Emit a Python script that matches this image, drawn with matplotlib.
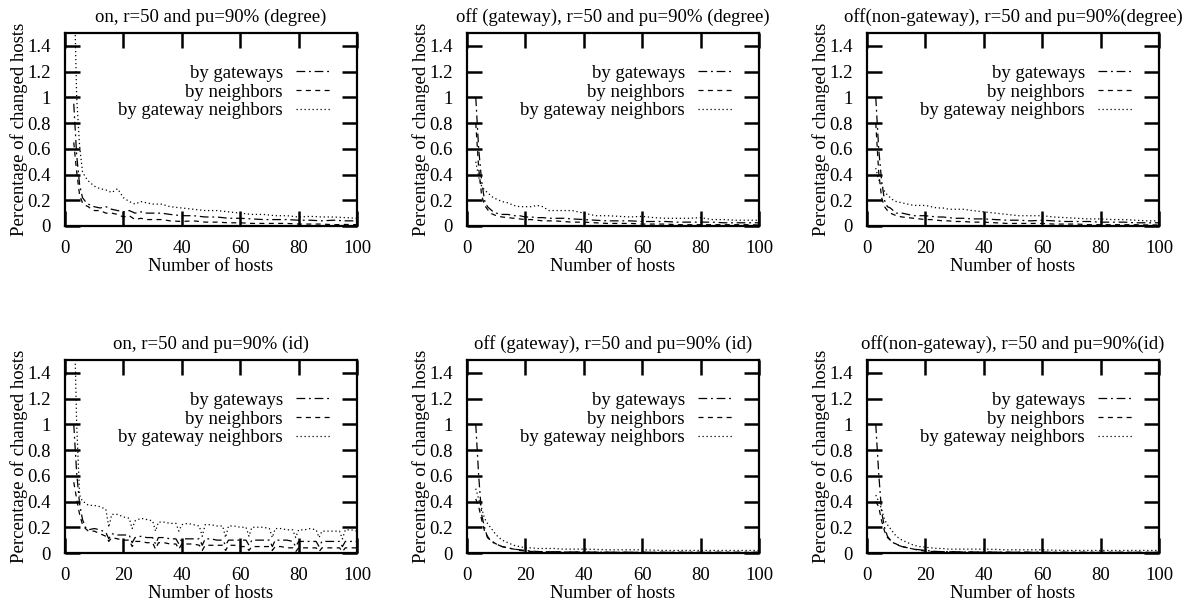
import matplotlib

matplotlib.use("Agg")
import matplotlib.pyplot as plt

plt.rcParams["font.family"] = ["Liberation Serif", "DejaVu Serif"]
plt.rcParams["font.size"] = 13.5

# shared x grid for the smooth panels
HOSTS = [3, 4, 5, 6, 7, 8, 9, 10, 12, 14, 16, 18, 20, 22, 24, 26, 28, 30, 33, 36,
         40, 44, 48, 52, 56, 60, 64, 68, 72, 76, 80, 84, 88, 92, 96, 100]

# on, degree
ON_DEG_GW = [0.95, 0.55, 0.32, 0.22, 0.19, 0.17, 0.16, 0.15, 0.14, 0.15, 0.13, 0.12,
             0.11, 0.12, 0.10, 0.11, 0.10, 0.10, 0.10, 0.09, 0.08, 0.08, 0.07, 0.07,
             0.06, 0.06, 0.055, 0.05, 0.05, 0.05, 0.045, 0.045, 0.04, 0.045, 0.04, 0.04]
ON_DEG_NB = [0.65, 0.42, 0.24, 0.18, 0.16, 0.15, 0.13, 0.12, 0.12, 0.10, 0.10, 0.09,
             0.07, 0.08, 0.05, 0.06, 0.05, 0.05, 0.05, 0.04, 0.035, 0.04, 0.03, 0.03,
             0.025, 0.025, 0.02, 0.02, 0.02, 0.02, 0.015, 0.015, 0.015, 0.01, 0.012, 0.01]
ON_DEG_GN = [2.0, 1.0, 0.62, 0.42, 0.38, 0.35, 0.33, 0.31, 0.29, 0.28, 0.26, 0.29,
             0.22, 0.19, 0.17, 0.19, 0.18, 0.17, 0.17, 0.15, 0.14, 0.13, 0.12, 0.12,
             0.11, 0.10, 0.09, 0.09, 0.08, 0.08, 0.07, 0.075, 0.07, 0.07, 0.065, 0.06]

# off (gateway), degree
OFFGW_DEG_GW = [1.0, 0.6, 0.35, 0.2, 0.15, 0.13, 0.11, 0.10, 0.09, 0.09, 0.08, 0.08,
                0.07, 0.07, 0.065, 0.065, 0.06, 0.06, 0.06, 0.055, 0.05, 0.045, 0.04, 0.04,
                0.04, 0.035, 0.035, 0.035, 0.03, 0.03, 0.03, 0.03, 0.025, 0.025, 0.025, 0.025]
OFFGW_DEG_NB = [0.8, 0.45, 0.24, 0.16, 0.13, 0.10, 0.09, 0.08, 0.07, 0.065, 0.06, 0.055,
                0.05, 0.05, 0.045, 0.04, 0.04, 0.04, 0.035, 0.03, 0.03, 0.025, 0.02, 0.02,
                0.02, 0.015, 0.015, 0.015, 0.01, 0.01, 0.01, 0.01, 0.01, 0.01, 0.01, 0.008]
OFFGW_DEG_GN = [0.5, 0.38, 0.31, 0.28, 0.26, 0.24, 0.22, 0.21, 0.19, 0.18, 0.16, 0.15,
                0.15, 0.15, 0.16, 0.15, 0.12, 0.12, 0.12, 0.12, 0.10, 0.08, 0.08, 0.075,
                0.07, 0.075, 0.065, 0.06, 0.06, 0.06, 0.065, 0.05, 0.05, 0.045, 0.045, 0.045]

# off (non-gateway), degree
OFFNG_DEG_GW = [1.0, 0.6, 0.35, 0.2, 0.15, 0.14, 0.12, 0.10, 0.10, 0.09, 0.08, 0.08,
                0.08, 0.075, 0.07, 0.07, 0.065, 0.06, 0.06, 0.055, 0.055, 0.05, 0.045, 0.045,
                0.04, 0.045, 0.04, 0.035, 0.035, 0.035, 0.03, 0.03, 0.03, 0.025, 0.025, 0.025]
OFFNG_DEG_NB = [0.8, 0.42, 0.22, 0.15, 0.12, 0.10, 0.09, 0.08, 0.07, 0.065, 0.06, 0.055,
                0.05, 0.05, 0.045, 0.04, 0.04, 0.035, 0.035, 0.03, 0.03, 0.025, 0.02, 0.02,
                0.02, 0.02, 0.015, 0.015, 0.015, 0.01, 0.01, 0.01, 0.01, 0.01, 0.008, 0.008]
OFFNG_DEG_GN = [0.45, 0.36, 0.32, 0.27, 0.24, 0.22, 0.20, 0.19, 0.18, 0.17, 0.16, 0.16,
                0.16, 0.15, 0.14, 0.14, 0.13, 0.13, 0.13, 0.12, 0.11, 0.10, 0.09, 0.08,
                0.08, 0.08, 0.07, 0.065, 0.06, 0.055, 0.055, 0.05, 0.05, 0.045, 0.04, 0.04]

# on, id (sawtooth dips every 8 hosts)
HOSTS_ID = [3, 4, 5, 6, 7, 8, 10, 12, 14, 15, 16, 18, 20, 22, 23, 24, 26, 28, 30, 31,
            32, 34, 36, 38, 39, 40, 42, 44, 46, 47, 48, 50, 52, 54, 55, 56, 58, 60, 62,
            63, 64, 66, 68, 70, 71, 72, 74, 76, 78, 79, 80, 82, 84, 86, 87, 88, 90, 92,
            94, 95, 96, 98, 100]
ON_ID_GW = [1.0, 0.62, 0.38, 0.26, 0.20, 0.18, 0.19, 0.18, 0.16, 0.11, 0.15, 0.14, 0.14,
            0.14, 0.08, 0.12, 0.13, 0.12, 0.12, 0.07, 0.12, 0.12, 0.11, 0.11, 0.07, 0.11,
            0.11, 0.11, 0.11, 0.06, 0.11, 0.11, 0.10, 0.10, 0.06, 0.10, 0.10, 0.10, 0.10,
            0.06, 0.10, 0.10, 0.10, 0.10, 0.05, 0.10, 0.10, 0.10, 0.09, 0.05, 0.09, 0.09,
            0.09, 0.09, 0.05, 0.09, 0.09, 0.09, 0.09, 0.05, 0.09, 0.09, 0.09]
ON_ID_NB = [0.55, 0.42, 0.30, 0.22, 0.19, 0.17, 0.17, 0.15, 0.13, 0.09, 0.12, 0.11, 0.10,
            0.10, 0.05, 0.09, 0.09, 0.08, 0.08, 0.03, 0.08, 0.08, 0.07, 0.07, 0.03, 0.07,
            0.07, 0.07, 0.06, 0.02, 0.06, 0.06, 0.06, 0.06, 0.02, 0.06, 0.06, 0.05, 0.05,
            0.02, 0.05, 0.05, 0.05, 0.05, 0.02, 0.05, 0.05, 0.04, 0.04, 0.01, 0.04, 0.04,
            0.04, 0.04, 0.01, 0.04, 0.04, 0.04, 0.04, 0.01, 0.04, 0.04, 0.04]
ON_ID_GN = [2.0, 1.0, 0.45, 0.40, 0.39, 0.37, 0.37, 0.36, 0.34, 0.20, 0.30, 0.30, 0.28,
            0.27, 0.19, 0.25, 0.27, 0.26, 0.25, 0.17, 0.24, 0.24, 0.23, 0.23, 0.17, 0.22,
            0.23, 0.22, 0.21, 0.13, 0.22, 0.22, 0.21, 0.21, 0.12, 0.21, 0.21, 0.20, 0.20,
            0.13, 0.20, 0.20, 0.20, 0.19, 0.12, 0.19, 0.19, 0.18, 0.18, 0.12, 0.18, 0.18,
            0.19, 0.18, 0.12, 0.17, 0.17, 0.17, 0.17, 0.11, 0.18, 0.18, 0.17]

# off (gateway), id
OFFGW_ID_GW = [1.0, 0.6, 0.30, 0.20, 0.12, 0.10, 0.08, 0.07, 0.05, 0.04, 0.03, 0.025,
               0.02, 0.015, 0.012, 0.01, 0.01, 0.01, 0.008, 0.008, 0.007, 0.007, 0.006, 0.006,
               0.006, 0.006, 0.005, 0.005, 0.005, 0.005, 0.005, 0.005, 0.005, 0.005, 0.005, 0.005]
OFFGW_ID_NB = [0.42, 0.36, 0.26, 0.17, 0.13, 0.10, 0.085, 0.07, 0.05, 0.04, 0.03, 0.02,
               0.015, 0.012, 0.01, 0.01, 0.01, 0.008, 0.008, 0.007, 0.007, 0.006, 0.006, 0.006,
               0.005, 0.005, 0.005, 0.005, 0.005, 0.005, 0.005, 0.005, 0.005, 0.005, 0.005, 0.005]
OFFGW_ID_GN = [0.5, 0.42, 0.35, 0.27, 0.23, 0.20, 0.17, 0.14, 0.10, 0.08, 0.06, 0.05,
               0.04, 0.04, 0.035, 0.035, 0.035, 0.035, 0.03, 0.03, 0.03, 0.028, 0.025, 0.025,
               0.025, 0.025, 0.022, 0.02, 0.02, 0.02, 0.02, 0.02, 0.02, 0.02, 0.02, 0.02]

# off (non-gateway), id
OFFNG_ID_GW = [1.0, 0.62, 0.32, 0.20, 0.13, 0.10, 0.08, 0.065, 0.05, 0.04, 0.03, 0.025,
               0.02, 0.015, 0.012, 0.01, 0.01, 0.01, 0.008, 0.008, 0.007, 0.007, 0.006, 0.006,
               0.006, 0.006, 0.005, 0.005, 0.005, 0.005, 0.005, 0.005, 0.005, 0.005, 0.005, 0.005]
OFFNG_ID_NB = [0.40, 0.36, 0.25, 0.17, 0.12, 0.10, 0.08, 0.07, 0.05, 0.04, 0.03, 0.02,
               0.015, 0.012, 0.01, 0.01, 0.01, 0.008, 0.008, 0.007, 0.007, 0.006, 0.006, 0.006,
               0.005, 0.005, 0.005, 0.005, 0.005, 0.005, 0.005, 0.005, 0.005, 0.005, 0.005, 0.005]
OFFNG_ID_GN = [0.45, 0.40, 0.34, 0.26, 0.22, 0.19, 0.16, 0.13, 0.10, 0.08, 0.06, 0.05,
               0.045, 0.04, 0.035, 0.035, 0.03, 0.03, 0.03, 0.03, 0.03, 0.028, 0.025, 0.025,
               0.025, 0.025, 0.022, 0.02, 0.02, 0.02, 0.02, 0.02, 0.02, 0.02, 0.02, 0.02]

TITLES = [
    "on, r=50 and pu=90% (degree)",
    "off (gateway), r=50 and pu=90% (degree)",
    "off(non-gateway), r=50 and pu=90%(degree)",
    "on, r=50 and pu=90% (id)",
    "off (gateway), r=50 and pu=90% (id)",
    "off(non-gateway), r=50 and pu=90%(id)",
]
SERIES_LABELS = ["by gateways", "by neighbors", "by gateway neighbors"]
X_TICKS = [0, 20, 40, 60, 80, 100]
Y_TICKS = [0, 0.2, 0.4, 0.6, 0.8, 1.0, 1.2, 1.4]
Y_TICK_LABELS = ["0", "0.2", "0.4", "0.6", "0.8", "1", "1.2", "1.4"]

PANELS = [
    (HOSTS, ON_DEG_GW, ON_DEG_NB, ON_DEG_GN),
    (HOSTS, OFFGW_DEG_GW, OFFGW_DEG_NB, OFFGW_DEG_GN),
    (HOSTS, OFFNG_DEG_GW, OFFNG_DEG_NB, OFFNG_DEG_GN),
    (HOSTS_ID, ON_ID_GW, ON_ID_NB, ON_ID_GN),
    (HOSTS, OFFGW_ID_GW, OFFGW_ID_NB, OFFGW_ID_GN),
    (HOSTS, OFFNG_ID_GW, OFFNG_ID_NB, OFFNG_ID_GN),
]

DASHES = [(0, (7, 3, 1.5, 3)), (0, (4, 3.5)), (0, (1, 2.2))]

W, H = 1188, 605
LEFTS = [65, 467, 867]
TOPS = [33, 360]
AX_W, AX_H = 292, 193


def draw_panel(ax, title, x, gw, nb, gn):
    for values, label, dash in zip((gw, nb, gn), SERIES_LABELS, DASHES):
        ax.plot(x, values, color="black", linewidth=0.9, linestyle=dash, label=label)

    ax.set_xlim(0, 100)
    ax.set_ylim(0, 1.5)
    ax.set_xticks(X_TICKS)
    ax.set_yticks(Y_TICKS)
    ax.set_yticklabels(Y_TICK_LABELS)
    ax.tick_params(direction="in", length=10.5, width=1.8, top=True, right=True, pad=10)
    for spine in ax.spines.values():
        spine.set_linewidth(1.6)

    ax.set_title(title, fontsize=13.5, pad=8)
    ax.set_xlabel("Number of hosts", labelpad=1)
    ax.set_ylabel("Percentage of changed hosts", labelpad=0)
    ax.legend(
        loc="upper right",
        bbox_to_anchor=(0.935, 0.874),
        frameon=False,
        markerfirst=False,
        handlelength=1.85,
        handletextpad=0.7,
        labelspacing=0.08,
        borderaxespad=0.0,
        fontsize=13.5,
    )


fig = plt.figure(figsize=(W / 100, H / 100), dpi=100)
for idx, (title, data) in enumerate(zip(TITLES, PANELS)):
    row, col = divmod(idx, 3)
    left = LEFTS[col] / W
    bottom = 1 - (TOPS[row] + AX_H) / H
    ax = fig.add_axes([left, bottom, AX_W / W, AX_H / H])
    draw_panel(ax, title, *data)

fig.savefig("out.png", dpi=100)
